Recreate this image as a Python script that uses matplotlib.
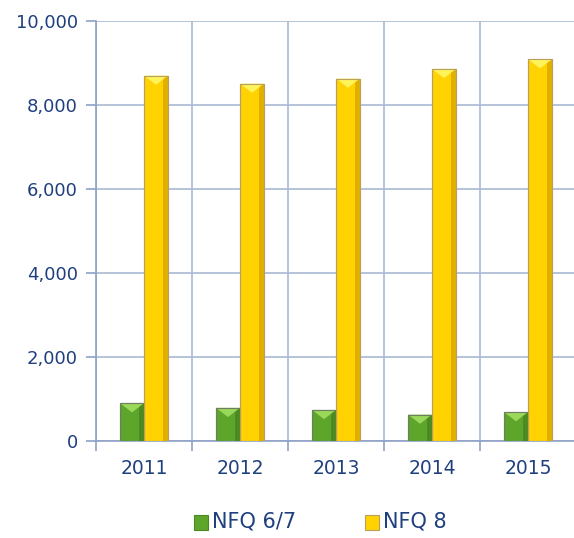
import numpy as np
import matplotlib.pyplot as plt
from matplotlib.patches import Polygon, Rectangle

years = ["2011", "2012", "2013", "2014", "2015"]
nfq67 = [900, 790, 740, 630, 690]
nfq8 = [8700, 8510, 8630, 8860, 9090]

text_col = "#1F3F7F"
grid_col = "#A9BAD4"
axis_col = "#8DA2C6"

fig = plt.figure(figsize=(5.74, 5.38), dpi=100)
ax = fig.add_axes([96 / 574, 97 / 538, 480 / 574, 420 / 538])

x = np.arange(len(years))
w = 0.25


def bevel_bars(ax, xs, vals, face, light, dark, edge):
    bars = ax.bar(xs, vals, w, color=face, edgecolor=edge, linewidth=0.8, zorder=3)
    for b in bars:
        x0, y0 = b.get_x(), b.get_y()
        bw, bh = b.get_width(), b.get_height()
        # darker strip on the right side
        ax.add_patch(Rectangle((x0 + bw * 0.78, y0), bw * 0.22, bh,
                               facecolor=dark, edgecolor="none", zorder=4))
        # chiselled top
        cap = min(bh * 0.5, 220)
        ax.add_patch(Polygon([(x0, y0 + bh), (x0 + bw, y0 + bh),
                              (x0 + bw / 2, y0 + bh - cap)],
                             closed=True, facecolor=light, edgecolor="none", zorder=5))
        ax.add_patch(Rectangle((x0, y0), bw, bh, facecolor="none",
                               edgecolor=edge, linewidth=0.8, zorder=6))
    return bars


bevel_bars(ax, x - w / 2, nfq67, "#5EA52B", "#9AD85A", "#4C8A22", "#6E7E60")
bevel_bars(ax, x + w / 2, nfq8, "#FFD200", "#FFF35A", "#E0B000", "#B8A060")

ax.set_xlim(-0.5, len(years) - 0.5)
ax.set_ylim(0, 10000)
ax.set_yticks(np.arange(0, 10001, 2000))
ax.set_yticklabels([f"{v:,}" for v in range(0, 10001, 2000)])
ax.yaxis.grid(True, color=grid_col, linewidth=1.2, zorder=0)

# category separators
ax.set_xticks(np.arange(-0.5, len(years), 1.0))
ax.set_xticklabels([])
ax.set_xticks(x, minor=True)
ax.set_xticklabels(years, minor=True)
ax.xaxis.grid(True, which="major", color=grid_col, linewidth=1.2, zorder=0)

ax.tick_params(axis="y", colors=axis_col, labelcolor=text_col, labelsize=13,
               length=7, width=1.2, pad=6)
ax.tick_params(axis="x", which="major", colors=axis_col, length=7, width=1.2)
ax.tick_params(axis="x", which="minor", length=0, labelcolor=text_col,
               labelsize=13.5, pad=13)

for side in ["top", "right"]:
    ax.spines[side].set_visible(False)
for side in ["left", "bottom"]:
    ax.spines[side].set_color(axis_col)
    ax.spines[side].set_linewidth(1.2)

# legend: small bevelled squares followed by labels
legend_items = [("NFQ 6/7", "#5EA52B", "#4C8A22", 194),
                ("NFQ 8", "#FFD200", "#B8A060", 365)]
for label, face, edge, px in legend_items:
    fig.add_artist(Rectangle((px / 574, 1 - 530 / 538), 14 / 574, 15 / 538,
                             facecolor=face, edgecolor=edge, linewidth=0.8,
                             transform=fig.transFigure))
    fig.text((px + 18) / 574, 1 - 522 / 538, label, color=text_col,
             fontsize=15, va="center", ha="left")

fig.savefig("out.png", dpi=100)
